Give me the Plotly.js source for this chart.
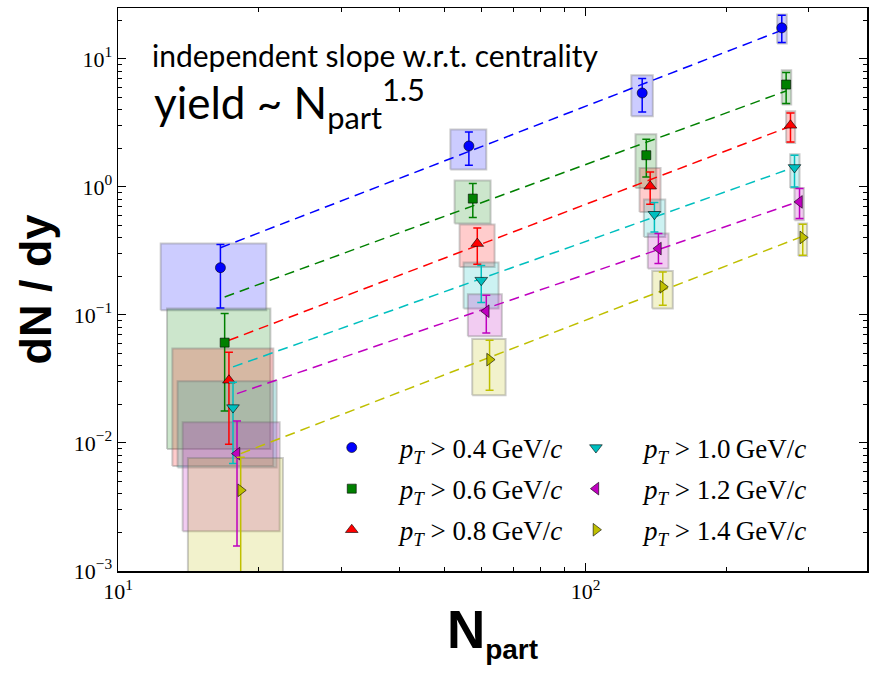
<!DOCTYPE html>
<html>
<head>
<meta charset="utf-8">
<script src="https://cdn.plot.ly/plotly-3.0.1.min.js"></script>
<style>html,body{margin:0;padding:0;background:#fff;}</style>
</head>
<body>
<div id="chart" style="width:876px;height:675px;"></div>
<script>
// pT thresholds (GeV/c)
const ptCuts = ['0.4', '0.6', '0.8', '1.0', '1.2', '1.4'];
// N_part of each point, per series
const npart = [
  [16.56, 56.3, 132.2, 262.9],
  [16.91, 57.4, 134.9, 268.6],
  [17.27, 58.68, 137.5, 274.4],
  [17.62, 59.84, 140.4, 279.9],
  [17.97, 61.34, 143.2, 286.9],
  [18.30, 62.34, 146.3, 291.5]
];
// dN/dy central values
const dndy = [
  [0.234, 2.09, 5.42, 17.5],
  [0.0608, 0.811, 1.77, 6.31],
  [0.0309, 0.361, 1.013, 3.03],
  [0.0189, 0.187, 0.612, 1.42],
  [0.00826, 0.107, 0.330, 0.764],
  [0.00427, 0.0448, 0.166, 0.403]
];
// statistical error bar ends
const statHigh = [
  [0.355, 2.69, 7.03, 21.9],
  [0.1026, 1.064, 2.36, 7.83],
  [0.0512, 0.479, 1.31, 3.79],
  [0.0298, 0.243, 0.755, 1.77],
  [0.01486, 0.1426, 0.4325, 0.972],
  [0.00773, 0.0634, 0.2168, 0.512]
];
const statLow = [
  [0.1135, 1.477, 3.855, 13.43],
  [0.0178, 0.577, 1.197, 4.48],
  [0.00977, 0.249, 0.733, 2.248],
  [0.0069, 0.125, 0.4446, 1.0],
  [0.00157, 0.0723, 0.252, 0.566],
  [0.0008, 0.0258, 0.1191, 0.2924]
];
// systematic boxes (dN/dy extent)
const sysHigh = [
  [0.361, 2.807, 7.46, 22.23],
  [0.1122, 1.122, 2.58, 8.16],
  [0.0546, 0.508, 1.407, 3.90],
  [0.0303, 0.2564, 0.798, 1.801],
  [0.01452, 0.1452, 0.4325, 0.982],
  [0.00764, 0.0650, 0.2208, 0.5176]
];
const sysLow = [
  [0.109, 1.368, 3.567, 13.19],
  [0.00897, 0.518, 0.982, 4.40],
  [0.00661, 0.237, 0.638, 2.207],
  [0.00643, 0.1122, 0.406, 0.982],
  [0.00204, 0.0683, 0.2304, 0.5497],
  [0.0008, 0.0236, 0.1122, 0.289]
];
// systematic boxes (N_part extent)
const npartLow = [
  [12.34, 51.4, 125.3, 257.0],
  [12.73, 52.48, 127.9, 262.9],
  [13.07, 53.78, 130.5, 268.6],
  [13.41, 54.85, 133.3, 274.0],
  [13.75, 56.02, 135.9, 279.9],
  [14.11, 57.24, 138.9, 285.4]
];
const npartHigh = [
  [20.76, 61.34, 139.3, 269.4],
  [21.18, 62.65, 141.7, 275.4],
  [21.49, 63.9, 144.7, 280.8],
  [21.84, 65.16, 148.1, 286.9],
  [22.17, 66.22, 150.5, 293.0],
  [22.53, 67.45, 153.7, 297.8]
];
// dashed power-law lines: dN/dy at first and last N_part of each series
const fitEnds = [
  [0.335, 16.75],
  [0.1383, 5.62],
  [0.0634, 2.98],
  [0.0393, 1.426],
  [0.0243, 0.773],
  [0.00826, 0.412]
];
const yTickVals = [0.001, 0.01, 0.1, 1, 10];
const yTickText = ['10<sup>\u22123</sup>', '10<sup>\u22122</sup>', '10<sup>\u22121</sup>', '10<sup>0</sup>', '10<sup>1</sup>'];
const xTickVals = [10, 100];
const xTickText = ['10<sup>1</sup>', '10<sup>2</sup>'];

const colors = ['#0000ff', '#008000', '#ff0000', '#00bfbf', '#bf00bf', '#bfbf00'];
const rgb = [[0,0,255],[0,128,0],[255,0,0],[0,191,191],[191,0,191],[191,191,0]];
const symbols = ['circle', 'square', 'triangle-up', 'triangle-down', 'triangle-left', 'triangle-right'];
const sizes = [10, 9, 11, 11, 11, 11];

const traces = [];
// boxes
for (let s = 0; s < ptCuts.length; s++) {
  for (let i = 0; i < npart[s].length; i++) {
    const x0 = npartLow[s][i], x1 = npartHigh[s][i];
    const y0 = sysLow[s][i], y1 = sysHigh[s][i];
    traces.push({
      type: 'scatter', mode: 'lines',
      x: [x0, x1, x1, x0, x0], y: [y0, y0, y1, y1, y0],
      fill: 'toself',
      fillcolor: 'rgba(' + rgb[s].join(',') + ',0.2)',
      line: {color: 'rgba(110,110,110,0.35)', width: 2},
      hoverinfo: 'skip', showlegend: false
    });
  }
}
// dashed lines
for (let s = 0; s < ptCuts.length; s++) {
  const n = npart[s].length;
  traces.push({
    type: 'scatter', mode: 'lines',
    x: [npart[s][0], npart[s][n - 1]], y: fitEnds[s],
    line: {color: colors[s], width: 1.5, dash: '10px,6px'},
    hoverinfo: 'skip', showlegend: false
  });
}
// data points
for (let s = 0; s < ptCuts.length; s++) {
  traces.push({
    type: 'scatter', mode: 'markers',
    name: '<i>p</i><sub><i>T</i></sub> &gt; ' + ptCuts[s] + '\u2009GeV/<i>c</i>',
    legend: s < 3 ? 'legend' : 'legend2',
    legendgroup: 'g' + s,
    x: npart[s], y: dndy[s],
    marker: {symbol: symbols[s], size: sizes[s], color: colors[s], line: {color: '#000', width: 0.6}},
    error_y: {
      type: 'data', symmetric: false,
      array: dndy[s].map((v, i) => statHigh[s][i] - v),
      arrayminus: dndy[s].map((v, i) => v - statLow[s][i]),
      color: colors[s], thickness: 1.5, width: 4
    }
  });
}

const axisCommon = {
  type: 'log', showgrid: false, zeroline: false,
  showline: true, linecolor: '#000', linewidth: 1.5, mirror: 'ticks',
  ticks: 'inside', ticklen: 8, tickwidth: 1, tickcolor: '#000',
  tickfont: {family: 'Liberation Serif', size: 22, color: '#000'},
  tickmode: 'array',
  minor: {ticks: 'inside', ticklen: 4, tickwidth: 1, tickcolor: '#000', dtick: 'D1', showgrid: false}
};

const legendCommon = {
  bgcolor: 'rgba(0,0,0,0)', borderwidth: 0,
  font: {family: 'Liberation Serif', size: 27, color: '#000'},
  xref: 'paper', yref: 'paper', xanchor: 'left', yanchor: 'top',
  itemwidth: 86, tracegroupgap: 3, traceorder: 'grouped'
};

const layout = {
  width: 876, height: 675,
  margin: {l: 118, r: 9, t: 8, b: 104},
  paper_bgcolor: '#fff', plot_bgcolor: '#fff',
  xaxis: Object.assign({}, axisCommon, {
    range: [1, Math.log10(400)],
    tickvals: xTickVals, ticktext: xTickText,
    title: {text: '<b>N<sub><span style="font-size:28px">part</span></sub></b>', font: {family: 'Liberation Sans', size: 53, color: '#000'}, standoff: 8}
  }),
  yaxis: Object.assign({}, axisCommon, {
    range: [-3, Math.log10(25)],
    tickvals: yTickVals, ticktext: yTickText,
    title: {text: '<b>dN / dy</b>', font: {family: 'Liberation Sans', size: 45, color: '#000'}, standoff: 8}
  }),
  showlegend: true,
  legend: Object.assign({}, legendCommon, {x: 0.248, y: 0.262}),
  legend2: Object.assign({}, legendCommon, {x: 0.574, y: 0.262}),
  annotations: [
    {text: 'independent slope w.r.t. centrality', xref: 'paper', yref: 'paper', x: 0.0427, y: 0.917,
     xanchor: 'left', yanchor: 'middle', showarrow: false, font: {family: 'Lato', size: 30, color: '#000'}},
    {text: 'yield ~ N<sub>part</sub><sup>1.5</sup>', xref: 'paper', yref: 'paper', x: 0.0454, y: 0.831,
     xanchor: 'left', yanchor: 'middle', showarrow: false, font: {family: 'Lato', size: 44, color: '#000'}}
  ]
};

Plotly.newPlot('chart', traces, layout, {displayModeBar: false, staticPlot: true});
</script>
</body>
</html>
